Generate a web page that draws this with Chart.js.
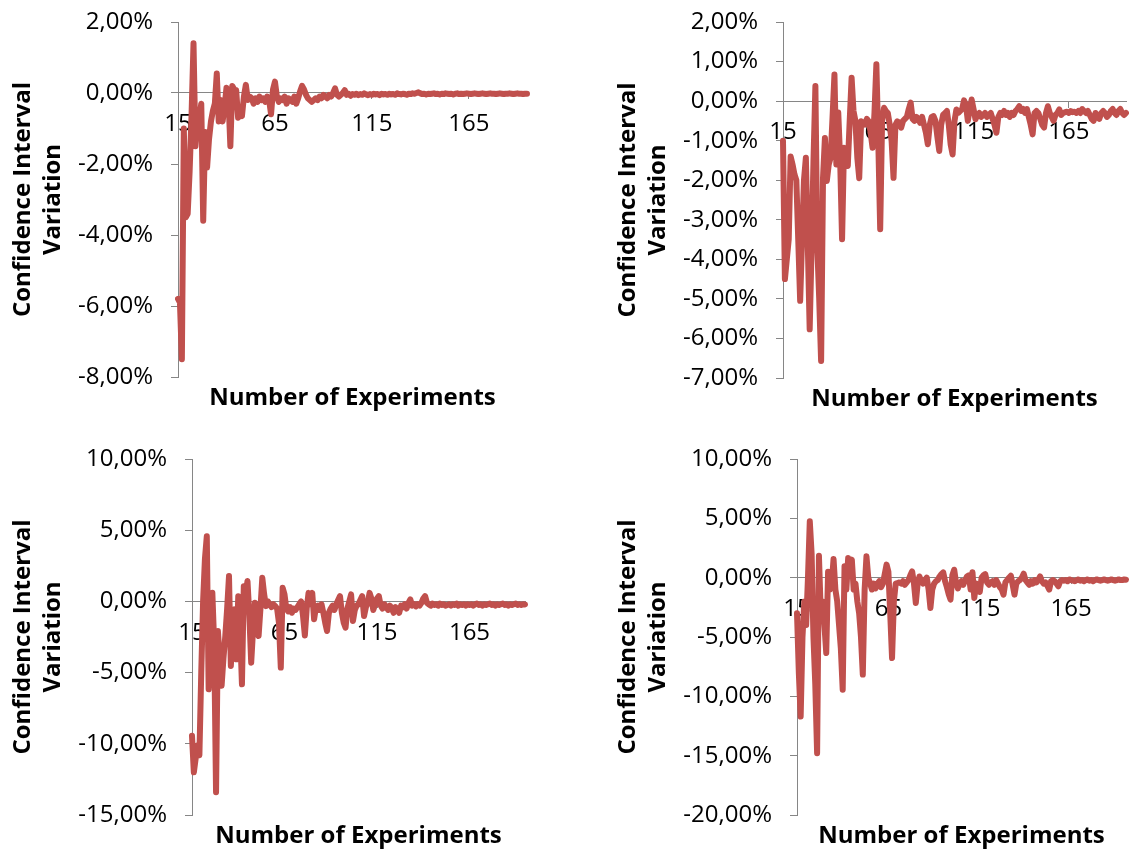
<!DOCTYPE html>
<html>
<head>
<meta charset="utf-8">
<script src="https://cdn.jsdelivr.net/npm/chart.js@4"></script>
<style>
  body { margin: 0; background: #fff; width: 1137px; height: 852px; position: relative; overflow: hidden; }
  canvas { position: absolute; }
</style>
</head>
<body>
<canvas id="c1" width="545" height="420" style="left:0;top:0"></canvas>
<canvas id="c2" width="532" height="420" style="left:605px;top:0"></canvas>
<canvas id="c3" width="545" height="415" style="left:0;top:437px"></canvas>
<canvas id="c4" width="532" height="415" style="left:605px;top:437px"></canvas>
<script>
// number of experiments on the x axis (15 .. 195)
const experiments = [];
for (let n = 15; n <= 195; n++) experiments.push(n);

// confidence interval variation, in %, one value per experiment count
const ci1 = [
  -5.8, -5.9, -7.5, -1.0, -3.5, -3.4, -2.2, -0.6, 1.4, -1.5,
  -0.8, -0.7, -0.3, -3.6, -1.1, -2.1, -1.3, -0.8, -0.5, -0.3,
  0.55, -0.8, -0.2, -0.8, -0.4, 0.15, -0.1, -1.5, 0.2, 0.1,
  0.08, -0.7, -0.6, -0.65, -0.1, 0.23, -0.2, -0.1, -0.15, -0.3,
  -0.15, -0.25, -0.1, -0.2, -0.15, -0.25, -0.1, -0.2, -0.6, 0.1,
  0.32, -0.1, -0.25, -0.15, -0.2, -0.1, -0.3, -0.15, -0.2, -0.25,
  -0.1, -0.3, -0.15, 0.05, 0.2, 0.1, -0.05, -0.15, -0.2, -0.25,
  -0.2, -0.15, -0.2, -0.1, -0.15, -0.05, -0.1, -0.15, -0.05, -0.1,
  0.0, 0.13, -0.05, -0.1, -0.05, 0.0, 0.08, -0.05, -0.02, -0.08,
  -0.03, -0.05, -0.02, -0.06, -0.03, -0.05, -0.01, -0.04, -0.06, -0.03,
  -0.05, -0.02, -0.04, -0.03, -0.06, -0.02, -0.04, -0.03, -0.05, -0.02,
  -0.04, -0.03, -0.05, -0.01, -0.03, -0.04, -0.02, -0.03, -0.05, -0.02,
  -0.03, -0.01, -0.02, 0.0, 0.02, -0.01, -0.03, -0.02, -0.04, -0.02,
  -0.03, -0.02, -0.01, -0.03, -0.02, -0.04, -0.02, -0.03, -0.01, -0.02,
  -0.03, -0.02, -0.04, -0.02, -0.01, -0.03, -0.02, -0.03, -0.02, -0.01,
  -0.02, -0.03, -0.02, -0.01, -0.02, -0.03, -0.02, -0.01, -0.02, -0.03,
  -0.02, -0.01, -0.02, -0.02, -0.03, -0.02, -0.01, -0.02, -0.03, -0.02,
  -0.02, -0.01, -0.02, -0.03, -0.02, -0.01, -0.02, -0.02, -0.03, -0.02,
  -0.02
];

const ci2 = [
  -1.0, -4.5, -4.0, -3.5, -1.4, -1.6, -1.85, -2.0, -3.5, -5.05,
  -3.5, -2.0, -1.43, -3.6, -5.77, -3.7, -1.5, 0.38, -3.7, -5.0,
  -6.57, -1.94, -0.93, -2.02, -1.6, -1.43, -0.4, 0.67, -1.6, -0.29,
  -1.5, -3.49, -1.18, -1.3, -1.64, -0.5, 0.59, -0.25, -0.5, -1.43,
  -1.95, -0.51, -0.55, -0.59, -0.45, -0.51, -0.8, -1.18, -0.3, 0.93,
  -1.0, -3.24, -0.5, -0.17, -0.25, -0.3, -0.6, -1.01, -1.94, -0.6,
  -0.51, -0.55, -0.67, -0.5, -0.45, -0.4, -0.2, -0.04, -0.45, -0.5,
  -0.4, -0.45, -0.55, -0.4, -0.6, -0.8, -1.09, -0.6, -0.4, -0.38,
  -0.5, -0.9, -1.26, -0.6, -0.35, -0.3, -0.25, -0.6, -1.1, -1.35,
  -0.5, -0.21, -0.3, -0.25, -0.2, 0.02, -0.1, -0.5, -0.2, 0.04,
  -0.2, -0.46, -0.35, -0.3, -0.4, -0.35, -0.3, -0.4, -0.35, -0.3,
  -0.45, -0.6, -0.8, -0.4, -0.3, -0.35, -0.25, -0.35, -0.3, -0.4,
  -0.3, -0.35, -0.25, -0.2, -0.13, -0.25, -0.2, -0.3, -0.2, -0.4,
  -0.6, -0.84, -0.3, -0.25, -0.3, -0.45, -0.6, -0.67, -0.3, -0.13,
  -0.3, -0.4, -0.5, -0.35, -0.3, -0.21, -0.35, -0.3, -0.28, -0.27,
  -0.3, -0.25, -0.28, -0.27, -0.3, -0.25, -0.3, -0.2, -0.25, -0.3,
  -0.25, -0.35, -0.45, -0.5, -0.3, -0.4, -0.45, -0.3, -0.25, -0.3,
  -0.4, -0.35, -0.25, -0.2, -0.3, -0.35, -0.25, -0.2, -0.3, -0.35,
  -0.3
];

const ci3 = [
  -9.44, -12.0, -11.0, -10.1, -10.8, -5.0, 0.0, 3.0, 4.58, -6.17,
  -3.0, 0.6, -3.0, -13.4, -2.08, -4.0, -5.93, -4.0, -2.43, -0.5,
  1.78, -4.53, -2.0, -0.56, -4.07, 0.37, -2.0, -5.82, 1.07, 0.5,
  1.43, -1.0, -4.3, -2.0, -0.09, -0.5, -2.43, -0.5, 1.66, 0.5,
  -0.33, 0.0, -0.2, -0.4, -0.2, -0.33, -0.5, -1.5, -4.65, 0.96,
  0.5, -0.5, -0.7, -0.4, -0.8, -0.5, -0.6, -0.4, -0.2, 0.0,
  -1.0, -2.4, -0.5, 0.6, -0.2, 0.6, -1.26, -0.4, -0.3, -0.6,
  -0.2, -0.8, -1.5, -2.08, -0.8, -0.5, -0.3, -0.6, -0.2, 0.1,
  0.37, -0.8, -1.5, -1.85, -0.5, 0.0, 0.49, -1.38, -0.6, -0.3,
  -0.2, 0.1, 0.37, -1.03, -0.4, -0.1, 0.6, 0.2, -0.6, -0.2,
  0.2, 0.37, -0.3, -0.5, -0.2, -0.4, -0.6, -0.3, -0.5, -0.8,
  -0.4, -0.6, -0.8, -0.3, -0.4, -0.2, -0.5, -0.1, 0.14, -0.3,
  -0.2, -0.35, -0.2, -0.3, -0.1, 0.2, 0.37, -0.1, -0.2, -0.3,
  -0.15, -0.25, -0.2, -0.3, -0.15, -0.25, -0.2, -0.3, -0.25, -0.2,
  -0.3, -0.2, -0.25, -0.15, -0.3, -0.2, -0.25, -0.2, -0.3, -0.2,
  -0.25, -0.2, -0.3, -0.2, -0.15, -0.25, -0.2, -0.3, -0.2, -0.25,
  -0.2, -0.15, -0.25, -0.2, -0.3, -0.2, -0.25, -0.2, -0.15, -0.25,
  -0.2, -0.3, -0.2, -0.25, -0.2, -0.15, -0.25, -0.2, -0.25, -0.2,
  -0.21
];

const ci4 = [
  -3.0, -8.0, -11.7, -5.0, -2.0, -4.0, 0.0, 4.75, 2.0, -5.0,
  -9.0, -14.8, 1.85, -3.0, -2.0, -4.0, -6.35, 0.5, -1.0, -0.5,
  1.57, -1.0, -2.0, -4.0, -6.0, -9.44, 0.96, -1.0, 1.66, 0.5,
  1.52, -1.0, -0.5, -2.0, -3.0, -5.0, -8.17, -1.0, 1.8, 0.0,
  -0.5, -1.0, -0.5, -0.9, -0.5, -0.3, -0.8, -0.5, 0.3, 1.1,
  0.5, -3.0, -6.77, -2.0, -0.5, -0.45, -0.4, -0.5, -0.3, -0.6,
  -0.4, -0.2, 0.2, 0.53, -0.5, -2.13, -0.5, 0.1, -0.3, -0.5,
  -0.2, 0.0, -1.0, -2.56, -1.0, -0.5, -0.3, -0.2, 0.1, 0.3,
  0.45, -0.3, -0.8, -1.4, -1.85, 0.2, 0.67, -0.4, -0.9, -0.5,
  -0.3, -0.6, -0.2, 0.1, 0.2, -1.0, 0.45, -1.71, -0.5, -0.8,
  -1.2, 0.0, 0.2, 0.3, -0.4, -0.6, -0.4, -0.3, -0.6, -0.2,
  -0.5, -0.8, -1.0, -1.43, -0.4, -0.2, 0.0, 0.17, -0.6, -1.43,
  -0.5, -0.3, -0.2, 0.0, 0.34, -0.2, -0.4, -0.6, -0.3, -0.5,
  -0.2, -0.4, -0.2, 0.11, -0.3, -0.5, -0.4, -0.7, -1.0, -0.3,
  -0.2, -0.3, -0.5, -0.73, -0.3, -0.2, -0.25, -0.2, -0.3, -0.15,
  -0.2, -0.25, -0.3, -0.2, -0.15, -0.25, -0.2, -0.3, -0.2, -0.15,
  -0.25, -0.2, -0.3, -0.2, -0.15, -0.2, -0.25, -0.2, -0.15, -0.2,
  -0.25, -0.2, -0.15, -0.2, -0.25, -0.2, -0.15, -0.2, -0.2, -0.15,
  -0.17
];

const lineColor = '#C0504D';
const axisColor = '#868686';
const tickFont = { family: "'Open Sans', sans-serif", size: 24 };
const titleFont = { family: "'Open Sans', sans-serif", size: 24, weight: 'bold', lineHeight: 1.25 };

function pct(v) {
  return v.toFixed(2).replace('.', ',') + '%';
}

function drawPanel(canvasId, values, yMin, yMax, yStep, axisWidth, pad) {
  new Chart(document.getElementById(canvasId), {
    type: 'line',
    data: {
      labels: experiments,
      datasets: [{
        data: values,
        borderColor: lineColor,
        borderWidth: 6,
        pointRadius: 0,
        tension: 0,
        borderCapStyle: 'round',
        borderJoinStyle: 'round'
      }]
    },
    options: {
      responsive: false,
      animation: false,
      events: [],
      layout: { padding: pad },
      scales: {
        x: {
          position: { y: 0 },
          grid: {
            drawOnChartArea: false,
            tickLength: 6,
            tickColor: ctx => (ctx.index % 50 === 0 ? axisColor : 'rgba(0,0,0,0)')
          },
          border: { color: axisColor, width: 1 },
          ticks: {
            autoSkip: false,
            maxRotation: 0,
            padding: 11,
            color: '#000',
            font: tickFont,
            callback: (v, i) => (i % 50 === 0 ? String(experiments[i]) : '')
          }
        },
        y: {
          min: yMin,
          max: yMax,
          // fixed axis width; let the layout padding decide the top/bottom of the plot
          afterFit: s => { s.width = axisWidth; s.paddingTop = 0; s.paddingBottom = 0; },
          grid: { drawOnChartArea: false, tickLength: 7, color: axisColor },
          border: { color: axisColor, width: 1 },
          ticks: { stepSize: yStep, padding: 18, color: '#000', font: tickFont, callback: v => pct(v) },
          title: {
            display: true,
            text: ['Confidence Interval', 'Variation'],
            color: '#000',
            font: titleFont,
            padding: 0
          }
        }
      },
      plugins: {
        legend: { display: false },
        tooltip: { enabled: false },
        title: {
          display: true,
          text: 'Number of Experiments',
          position: 'bottom',
          fullSize: false,
          color: '#000',
          font: titleFont,
          padding: { top: 6, bottom: 0 }
        }
      }
    }
  });
}

drawPanel('c1', ci1, -8, 2, 2, 170, { left: 8, top: 22, right: 18, bottom: 7 });
drawPanel('c2', ci2, -7, 2, 1, 170, { left: 8, top: 22, right: 5, bottom: 6 });
drawPanel('c3', ci3, -15, 10, 5, 184, { left: 8, top: 22, right: 20, bottom: 1 });
drawPanel('c4', ci4, -20, 10, 5, 184, { left: 8, top: 22, right: 5, bottom: 1 });
</script>
</body>
</html>
